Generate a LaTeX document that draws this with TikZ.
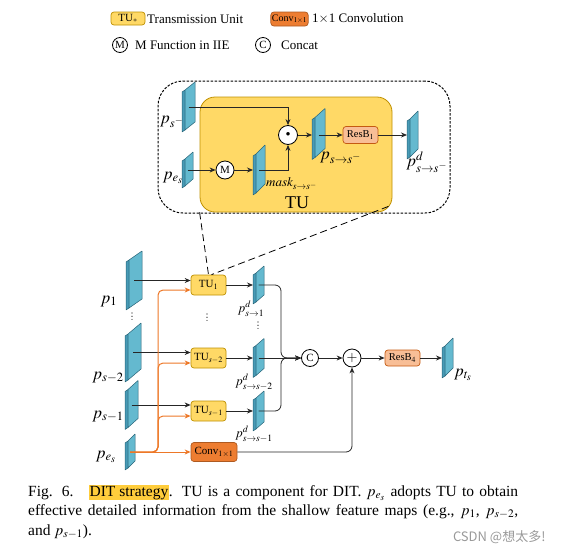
\documentclass[tikz,border=0pt]{standalone}
\usepackage{mathptmx}
\usepackage{fontspec}
\setmainfont{Liberation Serif}
\newfontfamily\cjk{Noto Sans CJK SC}
\usetikzlibrary{arrows.meta,calc}
\definecolor{tuyellow}{RGB}{255,217,102}
\definecolor{tuline}{RGB}{191,144,0}
\definecolor{convfill}{RGB}{237,125,49}
\definecolor{convline}{RGB}{174,90,33}
\definecolor{resfill}{RGB}{248,190,150}
\definecolor{resline}{RGB}{197,90,17}
\definecolor{oline}{RGB}{237,120,40}
\definecolor{fmapface}{RGB}{100,185,207}
\definecolor{fmapside}{RGB}{72,155,182}
\definecolor{fmapedge}{RGB}{40,100,120}
\definecolor{hilite}{RGB}{255,205,60}
\tikzset{fmapnode/.style={rectangle,inner sep=0pt,outer sep=0pt,draw=none},
    fmapfront/.style={draw=fmapedge,line width=0.5pt,fill=fmapface,line join=round},
    fmapback/.style={draw=fmapedge,line width=0.5pt,fill=fmapside,line join=round},
    tubox/.style={draw=tuline,fill=tuyellow,rounded corners=3pt,line width=0.7pt,
        minimum width=35pt,minimum height=20pt,inner sep=1pt,font=\fontsize{11}{11}\selectfont},
    convbox/.style={draw=convline,fill=convfill,rounded corners=3pt,line width=0.7pt,
        minimum width=46pt,minimum height=19pt,inner sep=1pt,font=\fontsize{11}{11}\selectfont},
    resbox/.style={draw=resline,fill=resfill,rounded corners=3pt,line width=0.7pt,
        minimum width=35pt,minimum height=17pt,inner sep=1pt,font=\fontsize{10.5}{10.5}\selectfont},
    opcirc/.style={circle,draw,fill=white,line width=0.8pt,minimum size=18pt,inner sep=0pt,
        font=\fontsize{11}{11}\selectfont},
    legtext/.style={font=\fontsize{13}{13}\selectfont,inner sep=0pt},
    maplabel/.style={font=\fontsize{17}{17}\selectfont,inner sep=0pt},
    sublabel/.style={font=\fontsize{13}{13}\selectfont,inner sep=0pt},
    arr/.style={-{Stealth[length=6pt,width=5pt]},line width=0.8pt,draw=black!85},
    oarr/.style={-{Stealth[length=6pt,width=5pt]},line width=1pt,draw=oline,rounded corners=5pt},
    link/.style={line width=0.8pt,dash pattern=on 7pt off 4pt},
    zoombox/.style={draw,line width=1pt,dash pattern=on 2.5pt off 1.5pt,rounded corners=25pt,inner sep=0pt},
    bigtu/.style={draw=tuline,fill=tuyellow,line width=0.8pt,rounded corners=15pt,inner sep=0pt}}
\newcommand{\fmap}[6]{%
  \node[fmapnode,minimum width=#4pt,minimum height=#5pt] (#1) at (#2,#3) {};
  \path[fmapback] (#1.south west) -- ([yshift={-(#6+2)*1pt}]#1.north west)
    -- ([xshift=3pt,yshift={-#6*1pt}]#1.north west) -- ([xshift=3pt,yshift=2pt]#1.south west) -- cycle;
  \path[fmapfront] ([xshift=3pt,yshift=2pt]#1.south west) -- ([xshift=3pt,yshift={-#6*1pt}]#1.north west)
    -- (#1.north east) -- ([yshift={(#6+2)*1pt}]#1.south east) -- cycle;
}
\newcommand{\vdotsat}[2]{%
  \foreach \k in {0,1,2} \fill (#1,#2+3.2*\k) circle (0.55pt);
}
\begin{document}
\begin{tikzpicture}[x=1pt,y=-1pt]
\useasboundingbox (0,0) rectangle (563,555);

\node[tubox,minimum width=34pt,minimum height=13pt] (legtu) at (128,18.5) {TU$_*$};
\node[legtext,anchor=west] (legtutext) at (147,19) {Transmission Unit};
\node[convbox,minimum width=35pt,minimum height=14pt,font=\fontsize{10}{10}\selectfont] (legconv) at (289.5,19) {Conv$_{1\times1}$};
\node[legtext,anchor=west] (legconvtext) at (312,19) {1$\times$1 Convolution};
\node[opcirc,minimum size=15pt] (legm) at (120,45) {M};
\node[legtext,anchor=west] (legmtext) at (135,45) {M Function in IIE};
\node[opcirc,minimum size=15pt] (legc) at (263,45) {C};
\node[legtext,anchor=west] (legctext) at (281,45) {Concat};

\node[zoombox,minimum width=292pt,minimum height=132pt] (zoom) at (304,147) {};
\node[bigtu,minimum width=192pt,minimum height=115pt] (tubig) at (296,154.5) {};
\node[font=\fontsize{18}{18}\selectfont] (tulabel) at (297,203) {TU};

\fmap{ps}{188.5}{107}{13}{50}{8}
\fmap{pes}{187.5}{170}{11}{36}{7}
\fmap{mask}{259}{170}{12}{50}{9}
\fmap{pss}{318.5}{134}{13}{51}{9}
\fmap{pd}{412.5}{135}{11}{48}{8}
\node[opcirc] (m) at (225,170) {M};
\node[opcirc,minimum size=19pt] (dot) at (288,135) {\fontsize{9}{9}\selectfont$\bullet$};
\node[resbox] (resb1) at (360.5,135) {ResB$_1$};
\draw[arr] (ps.center) -| (dot);
\draw[arr] (pes.center) -- (m);
\draw[arr] (m) -- (mask.west);
\draw[arr] (mask.center) -| (dot);
\draw[arr] (dot) -- (dot -| pss.west);
\draw[arr] (pss.center |- resb1) -- (resb1);
\draw[arr] (resb1) -- (resb1 -| pd.west);
\node[maplabel] (lps) at (172,122) {$p_{s^-}$};
\node[maplabel] (lpes) at (173,178) {$p_{e_s}$};
\node[sublabel,anchor=west] (lmask) at (266,184) {$mask_{s\to s^-}$};
\node[maplabel,anchor=west] (lpss) at (320,158) {$p_{s\to s^-}$};
\node[maplabel] (lpd) at (427,162) {$p^d_{s\to s^-}$};

\fmap{p1}{134}{280.5}{16}{59}{9}
\fmap{ps2}{133}{352.5}{16}{59}{11}
\fmap{ps1}{131.5}{405}{13}{49}{9}
\fmap{pe}{130}{452}{10}{36}{7}
\node[tubox] (tu1) at (208.5,285) {TU$_1$};
\node[tubox] (tus2) at (208.5,358) {TU$_{s-2}$};
\node[tubox] (tus1) at (208.5,411) {TU$_{s-1}$};
\node[convbox] (conv) at (214,452) {Conv$_{1\times1}$};
\fmap{d1}{258.5}{285}{11}{38}{7}
\fmap{d2}{258.5}{358}{11}{39}{7}
\fmap{d3}{258.5}{411}{11}{40}{7}
\node[opcirc,minimum size=17pt] (cat) at (310,358) {C};
\node[opcirc] (add) at (352,358) {\fontsize{14}{14}\selectfont$+$};
\node[resbox,minimum height=16pt] (resb4) at (402.5,358) {ResB$_4$};
\fmap{pt}{447.5}{358}{11}{40}{8}
\coordinate (obus) at (158,452);
\coordinate (merge) at (281,358);

\draw[link] (tubig.south west) -- (tu1.north);
\draw[link] ([xshift=-4pt,yshift=6pt]tubig.south east) -- ([xshift=3pt]tu1.north);

\draw[arr] (p1.center) -- (p1.center -| tu1.west);
\draw[arr] (ps2.center) -- (ps2.center -| tus2.west);
\draw[arr] (ps1.center) -- (ps1.center -| tus1.west);
\draw[oarr] (pe.center) -- (obus) |- ([yshift=-5pt]tu1.west);
\draw[oarr] (pe.center) -- (obus) |- ([yshift=-5pt]tus2.west);
\draw[oarr] (pe.center) -- (obus) |- ([yshift=-5pt]tus1.west);
\draw[oarr] (pe.center) -- (conv.west);
\draw[arr] (tu1) -- (tu1 -| d1.west);
\draw[arr] (tus2) -- (tus2 -| d2.west);
\draw[arr] (tus1) -- (tus1 -| d3.west);
\draw[arr,rounded corners=6pt] (d1.center) -| (merge) -- (cat);
\draw[arr] (d2.center) -- (cat);
\draw[arr,rounded corners=6pt] (d3.center) -| (merge) -- (cat);
\draw[arr] (cat) -- (add);
\draw[arr] (add) -- (resb4);
\draw[arr] (resb4) -- (resb4 -| pt.west);
\draw[arr,rounded corners=6pt] (conv.east) -| (add);

\node[maplabel,anchor=base] (lp1) at (109,303) {$p_1$};
\node[maplabel,anchor=base] (lps2) at (108,379) {$p_{s-2}$};
\node[maplabel,anchor=base] (lps1) at (108,418) {$p_{s-1}$};
\node[maplabel,anchor=base] (lpe) at (106,458) {$p_{e_s}$};
\node[sublabel] (ld1) at (251,309) {$p^d_{s\to1}$};
\node[sublabel] (ld2) at (254,382) {$p^d_{s\to s-2}$};
\node[sublabel] (ld3) at (254,434) {$p^d_{s\to s-1}$};
\node[maplabel] (lpt) at (463,375) {$p_{t_s}$};
\vdotsat{132}{313}
\vdotsat{207}{314}
\vdotsat{258}{322}

\node[anchor=north west,text width=490pt,align=justify,inner sep=0pt,
    font=\fontsize{15.5}{19.5}\selectfont] (caption) at (28,485)
    {Fig. 6.\quad {\setlength{\fboxsep}{0.5pt}\colorbox{hilite}{DIT strategy}}. TU is a component for DIT. $p_{e_s}$ adopts TU to obtain\linebreak
    effective detailed information from the shallow feature maps (e.g., $p_1$, $p_{s-2}$,\linebreak
    and $p_{s-1}$).};
\node[anchor=east,text=black!40,font=\cjk\fontsize{13}{13}\selectfont] (mark) at (549,537) {CSDN @想太多!};
\end{tikzpicture}
\end{document}
